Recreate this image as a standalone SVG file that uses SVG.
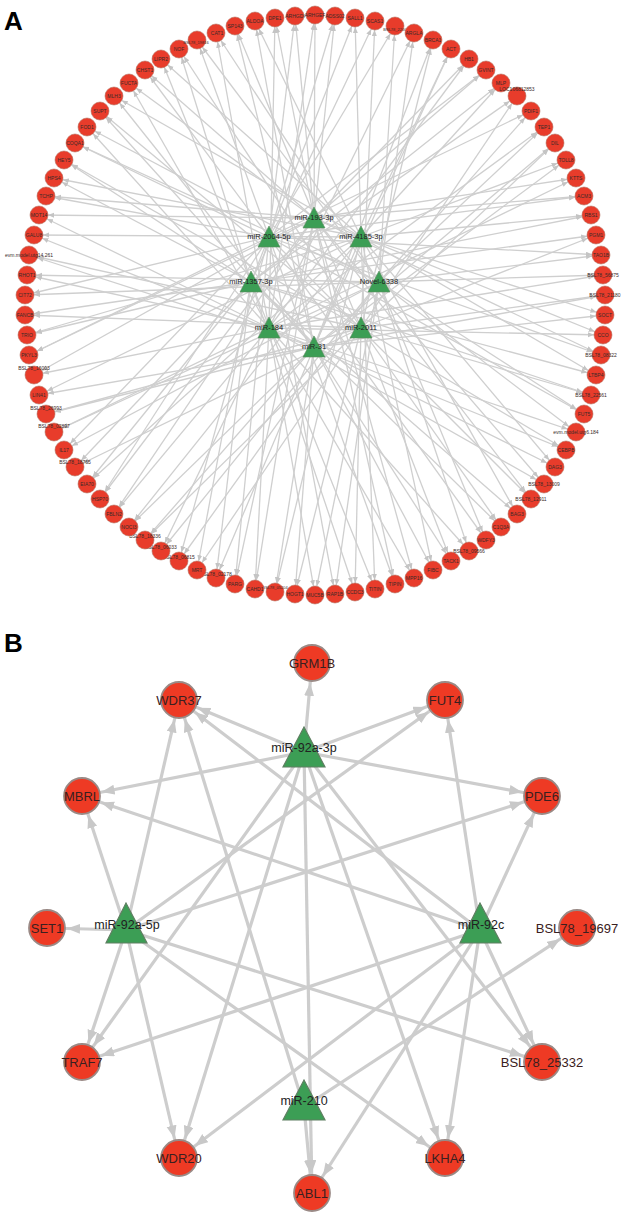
<svg xmlns="http://www.w3.org/2000/svg" width="626" height="1216" viewBox="0 0 626 1216">
<style>
.bg{fill:#fff}
.ea line{stroke:#cfcfcf;stroke-width:1.3;marker-end:url(#arA)}
.eb line{stroke:#cdcdcd;stroke-width:3.2;marker-end:url(#arB)}
.na circle{fill:#e83c2b;stroke:#b5715f;stroke-width:.6}
.na text{font-family:"Liberation Sans",Arial,sans-serif;font-size:5px;fill:#3a2a28;text-anchor:middle}
.na text.s{font-size:4px}
.ma polygon{fill:#3c9e55;stroke:#5c8a60;stroke-width:.6}
.ma text{font-family:"Liberation Sans",Arial,sans-serif;font-size:7.5px;fill:#222;text-anchor:middle}
.nb circle{fill:#ee3a24;stroke:#9a8a86;stroke-width:1.8}
.nb text{font-family:"Liberation Sans",Arial,sans-serif;font-size:13px;fill:#3a2020;text-anchor:middle}
.mb polygon{fill:#3c9e55;stroke:#5f7f62;stroke-width:1.2}
.mb text{font-family:"Liberation Sans",Arial,sans-serif;font-size:12.5px;fill:#222;text-anchor:middle}
.lbl{font-family:"Liberation Sans",Arial,sans-serif;font-size:26px;font-weight:bold;fill:#000}
</style>
<defs>
<marker id="arA" markerUnits="userSpaceOnUse" markerWidth="20" markerHeight="6" refX="15" refY="2.5" orient="auto"><path d="M0,0 L6,2.5 L0,5 z" fill="#c4c4c4"/></marker>
<marker id="arB" markerUnits="userSpaceOnUse" markerWidth="40" markerHeight="12" refX="33" refY="5" orient="auto"><path d="M0,0 L13,5 L0,10 z" fill="#c8c8c8"/></marker>
</defs>
<rect class="bg" width="626" height="1216"/>
<text class="lbl" x="4" y="30">A</text>
<text class="lbl" x="4" y="652">B</text>
<g id="edges-a" class="ea">
<line x1="314" y1="218" x2="315" y2="15"/><line x1="269" y1="328" x2="315" y2="15"/>
<line x1="269" y1="237" x2="335" y2="16"/><line x1="314" y1="218" x2="335" y2="16"/>
<line x1="361" y1="237" x2="355" y2="18"/><line x1="251" y1="282" x2="355" y2="18"/>
<line x1="251" y1="282" x2="375" y2="21"/><line x1="361" y1="328" x2="375" y2="21"/>
<line x1="379" y1="282" x2="395" y2="26"/><line x1="269" y1="237" x2="395" y2="26"/>
<line x1="269" y1="328" x2="414" y2="33"/><line x1="379" y1="282" x2="414" y2="33"/>
<line x1="361" y1="328" x2="433" y2="40"/><line x1="314" y1="347" x2="433" y2="40"/>
<line x1="314" y1="347" x2="451" y2="49"/><line x1="361" y1="237" x2="451" y2="49"/>
<line x1="314" y1="218" x2="469" y2="59"/><line x1="269" y1="328" x2="469" y2="59"/>
<line x1="269" y1="237" x2="486" y2="70"/><line x1="314" y1="218" x2="486" y2="70"/>
<line x1="361" y1="237" x2="501" y2="83"/><line x1="251" y1="282" x2="501" y2="83"/>
<line x1="251" y1="282" x2="517" y2="96"/><line x1="361" y1="328" x2="517" y2="96"/>
<line x1="379" y1="282" x2="531" y2="111"/><line x1="269" y1="237" x2="531" y2="111"/>
<line x1="269" y1="328" x2="544" y2="127"/><line x1="379" y1="282" x2="544" y2="127"/>
<line x1="361" y1="328" x2="555" y2="143"/><line x1="314" y1="347" x2="555" y2="143"/>
<line x1="314" y1="347" x2="566" y2="160"/><line x1="361" y1="237" x2="566" y2="160"/>
<line x1="314" y1="218" x2="576" y2="178"/><line x1="269" y1="328" x2="576" y2="178"/>
<line x1="269" y1="237" x2="584" y2="196"/><line x1="314" y1="218" x2="584" y2="196"/>
<line x1="361" y1="237" x2="591" y2="215"/><line x1="251" y1="282" x2="591" y2="215"/>
<line x1="251" y1="282" x2="596" y2="235"/><line x1="361" y1="328" x2="596" y2="235"/>
<line x1="379" y1="282" x2="601" y2="255"/><line x1="269" y1="237" x2="601" y2="255"/>
<line x1="269" y1="328" x2="603" y2="275"/><line x1="379" y1="282" x2="603" y2="275"/>
<line x1="361" y1="328" x2="605" y2="295"/><line x1="314" y1="347" x2="605" y2="295"/>
<line x1="314" y1="347" x2="605" y2="315"/><line x1="361" y1="237" x2="605" y2="315"/>
<line x1="314" y1="218" x2="603" y2="335"/><line x1="269" y1="328" x2="603" y2="335"/>
<line x1="269" y1="237" x2="601" y2="355"/><line x1="314" y1="218" x2="601" y2="355"/>
<line x1="361" y1="237" x2="596" y2="375"/><line x1="251" y1="282" x2="596" y2="375"/>
<line x1="251" y1="282" x2="591" y2="395"/><line x1="361" y1="328" x2="591" y2="395"/>
<line x1="379" y1="282" x2="584" y2="414"/><line x1="269" y1="237" x2="584" y2="414"/>
<line x1="269" y1="328" x2="576" y2="432"/><line x1="379" y1="282" x2="576" y2="432"/>
<line x1="361" y1="328" x2="566" y2="450"/><line x1="314" y1="347" x2="566" y2="450"/>
<line x1="314" y1="347" x2="555" y2="467"/><line x1="361" y1="237" x2="555" y2="467"/>
<line x1="314" y1="218" x2="544" y2="484"/><line x1="269" y1="328" x2="544" y2="484"/>
<line x1="269" y1="237" x2="531" y2="499"/><line x1="314" y1="218" x2="531" y2="499"/>
<line x1="361" y1="237" x2="517" y2="514"/><line x1="251" y1="282" x2="517" y2="514"/>
<line x1="251" y1="282" x2="501" y2="527"/><line x1="361" y1="328" x2="501" y2="527"/>
<line x1="379" y1="282" x2="486" y2="540"/><line x1="269" y1="237" x2="486" y2="540"/>
<line x1="269" y1="328" x2="469" y2="551"/><line x1="379" y1="282" x2="469" y2="551"/>
<line x1="361" y1="328" x2="451" y2="561"/><line x1="314" y1="347" x2="451" y2="561"/>
<line x1="314" y1="347" x2="433" y2="570"/><line x1="361" y1="237" x2="433" y2="570"/>
<line x1="314" y1="218" x2="414" y2="578"/><line x1="269" y1="328" x2="414" y2="578"/>
<line x1="269" y1="237" x2="395" y2="584"/><line x1="314" y1="218" x2="395" y2="584"/>
<line x1="361" y1="237" x2="375" y2="589"/><line x1="251" y1="282" x2="375" y2="589"/>
<line x1="251" y1="282" x2="355" y2="592"/><line x1="361" y1="328" x2="355" y2="592"/>
<line x1="379" y1="282" x2="335" y2="594"/><line x1="269" y1="237" x2="335" y2="594"/>
<line x1="269" y1="328" x2="315" y2="595"/><line x1="379" y1="282" x2="315" y2="595"/>
<line x1="361" y1="328" x2="295" y2="594"/><line x1="314" y1="347" x2="295" y2="594"/>
<line x1="314" y1="347" x2="275" y2="592"/><line x1="361" y1="237" x2="275" y2="592"/>
<line x1="314" y1="218" x2="255" y2="589"/><line x1="269" y1="328" x2="255" y2="589"/>
<line x1="269" y1="237" x2="235" y2="584"/><line x1="314" y1="218" x2="235" y2="584"/>
<line x1="361" y1="237" x2="216" y2="578"/><line x1="251" y1="282" x2="216" y2="578"/>
<line x1="251" y1="282" x2="197" y2="570"/><line x1="361" y1="328" x2="197" y2="570"/>
<line x1="379" y1="282" x2="179" y2="561"/><line x1="269" y1="237" x2="179" y2="561"/>
<line x1="269" y1="328" x2="161" y2="551"/><line x1="379" y1="282" x2="161" y2="551"/>
<line x1="361" y1="328" x2="145" y2="540"/><line x1="314" y1="347" x2="145" y2="540"/>
<line x1="314" y1="347" x2="129" y2="527"/><line x1="361" y1="237" x2="129" y2="527"/>
<line x1="314" y1="218" x2="114" y2="514"/><line x1="269" y1="328" x2="114" y2="514"/>
<line x1="269" y1="237" x2="100" y2="499"/><line x1="314" y1="218" x2="100" y2="499"/>
<line x1="361" y1="237" x2="87" y2="484"/><line x1="251" y1="282" x2="87" y2="484"/>
<line x1="251" y1="282" x2="75" y2="467"/><line x1="361" y1="328" x2="75" y2="467"/>
<line x1="379" y1="282" x2="64" y2="450"/><line x1="269" y1="237" x2="64" y2="450"/>
<line x1="269" y1="328" x2="54" y2="432"/><line x1="379" y1="282" x2="54" y2="432"/>
<line x1="361" y1="328" x2="46" y2="414"/><line x1="314" y1="347" x2="46" y2="414"/>
<line x1="314" y1="347" x2="39" y2="395"/><line x1="361" y1="237" x2="39" y2="395"/>
<line x1="314" y1="218" x2="34" y2="375"/><line x1="269" y1="328" x2="34" y2="375"/>
<line x1="269" y1="237" x2="29" y2="355"/><line x1="314" y1="218" x2="29" y2="355"/>
<line x1="361" y1="237" x2="27" y2="335"/><line x1="251" y1="282" x2="27" y2="335"/>
<line x1="251" y1="282" x2="25" y2="315"/><line x1="361" y1="328" x2="25" y2="315"/>
<line x1="379" y1="282" x2="25" y2="295"/><line x1="269" y1="237" x2="25" y2="295"/>
<line x1="269" y1="328" x2="27" y2="275"/><line x1="379" y1="282" x2="27" y2="275"/>
<line x1="361" y1="328" x2="29" y2="255"/><line x1="314" y1="347" x2="29" y2="255"/>
<line x1="314" y1="347" x2="34" y2="235"/><line x1="361" y1="237" x2="34" y2="235"/>
<line x1="314" y1="218" x2="39" y2="215"/><line x1="269" y1="328" x2="39" y2="215"/>
<line x1="269" y1="237" x2="46" y2="196"/><line x1="314" y1="218" x2="46" y2="196"/>
<line x1="361" y1="237" x2="54" y2="178"/><line x1="251" y1="282" x2="54" y2="178"/>
<line x1="251" y1="282" x2="64" y2="160"/><line x1="361" y1="328" x2="64" y2="160"/>
<line x1="379" y1="282" x2="75" y2="143"/><line x1="269" y1="237" x2="75" y2="143"/>
<line x1="269" y1="328" x2="87" y2="127"/><line x1="379" y1="282" x2="87" y2="127"/>
<line x1="361" y1="328" x2="100" y2="111"/><line x1="314" y1="347" x2="100" y2="111"/>
<line x1="314" y1="347" x2="114" y2="96"/><line x1="361" y1="237" x2="114" y2="96"/>
<line x1="314" y1="218" x2="129" y2="83"/><line x1="269" y1="328" x2="129" y2="83"/>
<line x1="269" y1="237" x2="145" y2="70"/><line x1="314" y1="218" x2="145" y2="70"/>
<line x1="361" y1="237" x2="161" y2="59"/><line x1="251" y1="282" x2="161" y2="59"/>
<line x1="251" y1="282" x2="179" y2="49"/><line x1="361" y1="328" x2="179" y2="49"/>
<line x1="379" y1="282" x2="197" y2="40"/><line x1="269" y1="237" x2="197" y2="40"/>
<line x1="269" y1="328" x2="216" y2="33"/><line x1="379" y1="282" x2="216" y2="33"/>
<line x1="361" y1="328" x2="235" y2="26"/><line x1="314" y1="347" x2="235" y2="26"/>
<line x1="314" y1="347" x2="255" y2="21"/><line x1="361" y1="237" x2="255" y2="21"/>
<line x1="314" y1="218" x2="275" y2="18"/><line x1="269" y1="328" x2="275" y2="18"/>
<line x1="269" y1="237" x2="295" y2="16"/><line x1="314" y1="218" x2="295" y2="16"/>
</g>
<g class="na">
<g id="a0"><circle cx="315" cy="15" r="9"/><text x="315" y="17">ARHGEF</text></g>
<g id="a1"><circle cx="335" cy="16" r="9"/><text x="335" y="18">ADSS02</text></g>
<g id="a2"><circle cx="355" cy="18" r="9"/><text x="355" y="20">SALL1</text></g>
<g id="a3"><circle cx="375" cy="21" r="9"/><text x="375" y="23">SCAS1</text></g>
<g id="a4"><circle cx="395" cy="26" r="9"/><text class="s" x="396" y="31">BSL78_22005</text></g>
<g id="a5"><circle cx="414" cy="33" r="9"/><text x="414" y="35">ARGLA</text></g>
<g id="a6"><circle cx="433" cy="40" r="9"/><text x="433" y="42">BRCA1</text></g>
<g id="a7"><circle cx="451" cy="49" r="9"/><text x="451" y="51">ACT</text></g>
<g id="a8"><circle cx="469" cy="59" r="9"/><text x="469" y="61">HB1</text></g>
<g id="a9"><circle cx="486" cy="70" r="9"/><text x="486" y="72">GVINT</text></g>
<g id="a10"><circle cx="501" cy="83" r="9"/><text x="501" y="85">MLP</text></g>
<g id="a11"><circle cx="517" cy="96" r="9"/><text x="517" y="91">LOC106812853</text></g>
<g id="a12"><circle cx="531" cy="111" r="9"/><text x="531" y="113">PDIF1</text></g>
<g id="a13"><circle cx="544" cy="127" r="9"/><text x="544" y="129">TEP1</text></g>
<g id="a14"><circle cx="555" cy="143" r="9"/><text x="555" y="145">DIL</text></g>
<g id="a15"><circle cx="566" cy="160" r="9"/><text x="566" y="162">TOLL8</text></g>
<g id="a16"><circle cx="576" cy="178" r="9"/><text x="576" y="180">KTTS</text></g>
<g id="a17"><circle cx="584" cy="196" r="9"/><text x="584" y="198">ACM3</text></g>
<g id="a18"><circle cx="591" cy="215" r="9"/><text x="591" y="217">RBS1</text></g>
<g id="a19"><circle cx="596" cy="235" r="9"/><text x="596" y="237">PGM1</text></g>
<g id="a20"><circle cx="601" cy="255" r="9"/><text x="601" y="257">TAO1B</text></g>
<g id="a21"><circle cx="603" cy="275" r="9"/><text x="603" y="277">BSL78_56875</text></g>
<g id="a22"><circle cx="605" cy="295" r="9"/><text x="605" y="297">BSL78_21180</text></g>
<g id="a23"><circle cx="605" cy="315" r="9"/><text x="605" y="317">SOCT</text></g>
<g id="a24"><circle cx="603" cy="335" r="9"/><text x="603" y="337">CCO</text></g>
<g id="a25"><circle cx="601" cy="355" r="9"/><text x="601" y="357">BSL78_08322</text></g>
<g id="a26"><circle cx="596" cy="375" r="9"/><text x="596" y="377">LTBP4</text></g>
<g id="a27"><circle cx="591" cy="395" r="9"/><text x="591" y="397">BSL78_22561</text></g>
<g id="a28"><circle cx="584" cy="414" r="9"/><text x="584" y="416">FUT5</text></g>
<g id="a29"><circle cx="576" cy="432" r="9"/><text x="576" y="434">evm.model.utg6.184</text></g>
<g id="a30"><circle cx="566" cy="450" r="9"/><text x="566" y="452">CEBPB</text></g>
<g id="a31"><circle cx="555" cy="467" r="9"/><text x="555" y="469">DAG3</text></g>
<g id="a32"><circle cx="544" cy="484" r="9"/><text x="544" y="486">BSL78_13009</text></g>
<g id="a33"><circle cx="531" cy="499" r="9"/><text x="531" y="501">BSL78_12911</text></g>
<g id="a34"><circle cx="517" cy="514" r="9"/><text x="517" y="516">BAG3</text></g>
<g id="a35"><circle cx="501" cy="527" r="9"/><text x="501" y="529">C1Q3A</text></g>
<g id="a36"><circle cx="486" cy="540" r="9"/><text x="486" y="542">WDFY3</text></g>
<g id="a37"><circle cx="469" cy="551" r="9"/><text x="469" y="553">BSL78_09566</text></g>
<g id="a38"><circle cx="451" cy="561" r="9"/><text x="451" y="563">TACK1</text></g>
<g id="a39"><circle cx="433" cy="570" r="9"/><text x="433" y="572">FIBC</text></g>
<g id="a40"><circle cx="414" cy="578" r="9"/><text x="414" y="580">MPP16</text></g>
<g id="a41"><circle cx="395" cy="584" r="9"/><text x="395" y="586">TIPIN</text></g>
<g id="a42"><circle cx="375" cy="589" r="9"/><text x="375" y="591">TITIN</text></g>
<g id="a43"><circle cx="355" cy="592" r="9"/><text x="355" y="594">CCDC3</text></g>
<g id="a44"><circle cx="335" cy="594" r="9"/><text x="335" y="596">RAP1B</text></g>
<g id="a45"><circle cx="315" cy="595" r="9"/><text x="315" y="597">MUC5B</text></g>
<g id="a46"><circle cx="295" cy="594" r="9"/><text x="295" y="596">HOGT1</text></g>
<g id="a47"><circle cx="275" cy="592" r="9"/><text class="s" x="275" y="589">BSL78_05204</text></g>
<g id="a48"><circle cx="255" cy="589" r="9"/><text x="255" y="591">CAHD1</text></g>
<g id="a49"><circle cx="235" cy="584" r="9"/><text x="235" y="586">PARG</text></g>
<g id="a50"><circle cx="216" cy="578" r="9"/><text x="216" y="576">BSL78_02178</text></g>
<g id="a51"><circle cx="197" cy="570" r="9"/><text x="197" y="572">MRT</text></g>
<g id="a52"><circle cx="179" cy="561" r="9"/><text x="179" y="559">BSL78_06815</text></g>
<g id="a53"><circle cx="161" cy="551" r="9"/><text x="161" y="549">BSL78_06033</text></g>
<g id="a54"><circle cx="145" cy="540" r="9"/><text x="145" y="538">BSL78_18336</text></g>
<g id="a55"><circle cx="129" cy="527" r="9"/><text x="129" y="529">NOCI3</text></g>
<g id="a56"><circle cx="114" cy="514" r="9"/><text x="114" y="516">FBLN2</text></g>
<g id="a57"><circle cx="100" cy="499" r="9"/><text x="100" y="501">HSP70</text></g>
<g id="a58"><circle cx="87" cy="484" r="9"/><text x="87" y="486">EIA70</text></g>
<g id="a59"><circle cx="75" cy="467" r="9"/><text x="75" y="464">BSL78_18765</text></g>
<g id="a60"><circle cx="64" cy="450" r="9"/><text x="64" y="452">IL17</text></g>
<g id="a61"><circle cx="54" cy="432" r="9"/><text x="54" y="428">BSL78_02897</text></g>
<g id="a62"><circle cx="46" cy="414" r="9"/><text x="46" y="410">BSL78_26993</text></g>
<g id="a63"><circle cx="39" cy="395" r="9"/><text x="39" y="397">LIN41</text></g>
<g id="a64"><circle cx="34" cy="375" r="9"/><text x="34" y="370">BSL78_16003</text></g>
<g id="a65"><circle cx="29" cy="355" r="9"/><text x="29" y="357">PKYL3</text></g>
<g id="a66"><circle cx="27" cy="335" r="9"/><text x="27" y="337">TRIO</text></g>
<g id="a67"><circle cx="25" cy="315" r="9"/><text x="25" y="317">FANCB</text></g>
<g id="a68"><circle cx="25" cy="295" r="9"/><text x="25" y="297">CIT72</text></g>
<g id="a69"><circle cx="27" cy="275" r="9"/><text x="27" y="277">RHOT1</text></g>
<g id="a70"><circle cx="29" cy="255" r="9"/><text x="29" y="257">evm.model.utg14.261</text></g>
<g id="a71"><circle cx="34" cy="235" r="9"/><text x="34" y="237">GALU8</text></g>
<g id="a72"><circle cx="39" cy="215" r="9"/><text x="39" y="217">MOT14</text></g>
<g id="a73"><circle cx="46" cy="196" r="9"/><text x="46" y="198">TCHP</text></g>
<g id="a74"><circle cx="54" cy="178" r="9"/><text x="54" y="180">HPS4</text></g>
<g id="a75"><circle cx="64" cy="160" r="9"/><text x="64" y="162">HEY5</text></g>
<g id="a76"><circle cx="75" cy="143" r="9"/><text x="75" y="145">COQA1</text></g>
<g id="a77"><circle cx="87" cy="127" r="9"/><text x="87" y="129">FOD1</text></g>
<g id="a78"><circle cx="100" cy="111" r="9"/><text x="100" y="113">SUPT</text></g>
<g id="a79"><circle cx="114" cy="96" r="9"/><text x="114" y="98">MLH3</text></g>
<g id="a80"><circle cx="129" cy="83" r="9"/><text x="129" y="85">FUCTA</text></g>
<g id="a81"><circle cx="145" cy="70" r="9"/><text x="145" y="72">CHST1</text></g>
<g id="a82"><circle cx="161" cy="59" r="9"/><text x="161" y="61">LIPR2</text></g>
<g id="a83"><circle cx="179" cy="49" r="9"/><text x="179" y="51">NOF</text></g>
<g id="a84"><circle cx="197" cy="40" r="9"/><text class="s" x="196" y="44">BSL78_19816</text></g>
<g id="a85"><circle cx="216" cy="33" r="9"/><text x="217" y="35">CAT1</text></g>
<g id="a86"><circle cx="235" cy="26" r="9"/><text x="235" y="28">SP143</text></g>
<g id="a87"><circle cx="255" cy="21" r="9"/><text x="255" y="23">ALDOA</text></g>
<g id="a88"><circle cx="275" cy="18" r="9"/><text x="275" y="20">DPE1</text></g>
<g id="a89"><circle cx="295" cy="16" r="9"/><text x="295" y="18">ARHGDI</text></g>
</g>
<g class="ma">
<g id="m193"><polygon points="314,207 303,228 325,228"/><text x="314" y="220">miR-193-3p</text></g>
<g id="m2004"><polygon points="269,226 258,247 280,247"/><text x="269" y="239">miR-2004-5p</text></g>
<g id="m4185"><polygon points="361,226 350,247 372,247"/><text x="361" y="239">miR-4185-3p</text></g>
<g id="m1357"><polygon points="251,271 240,292 262,292"/><text x="251" y="284">miR-1357-3p</text></g>
<g id="n6338"><polygon points="379,271 368,292 390,292"/><text x="379" y="284">Novel-6338</text></g>
<g id="m184"><polygon points="269,317 258,338 280,338"/><text x="269" y="330">miR-184</text></g>
<g id="m2011"><polygon points="361,317 350,338 372,338"/><text x="361" y="330">miR-2011</text></g>
<g id="m31"><polygon points="314,336 303,357 325,357"/><text x="314" y="349">miR-31</text></g>
</g>
<g id="edges-b" class="eb">
<line x1="304" y1="752" x2="312" y2="663"/><line x1="304" y1="752" x2="179" y2="700"/>
<line x1="304" y1="752" x2="445" y2="700"/><line x1="304" y1="752" x2="82" y2="796"/>
<line x1="304" y1="752" x2="542" y2="796"/><line x1="304" y1="752" x2="312" y2="1193"/>
<line x1="304" y1="752" x2="82" y2="1062"/><line x1="304" y1="752" x2="179" y2="1158"/>
<line x1="304" y1="752" x2="445" y2="1158"/><line x1="304" y1="752" x2="542" y2="1062"/>
<line x1="126" y1="930" x2="47" y2="928"/><line x1="126" y1="930" x2="82" y2="796"/>
<line x1="126" y1="930" x2="179" y2="700"/><line x1="126" y1="930" x2="82" y2="1062"/>
<line x1="126" y1="930" x2="179" y2="1158"/><line x1="126" y1="930" x2="542" y2="796"/>
<line x1="126" y1="930" x2="445" y2="700"/><line x1="126" y1="930" x2="445" y2="1158"/>
<line x1="126" y1="930" x2="542" y2="1062"/>
<line x1="480" y1="930" x2="445" y2="700"/><line x1="480" y1="930" x2="542" y2="796"/>
<line x1="480" y1="930" x2="82" y2="796"/><line x1="480" y1="930" x2="179" y2="700"/>
<line x1="480" y1="930" x2="82" y2="1062"/><line x1="480" y1="930" x2="179" y2="1158"/>
<line x1="480" y1="930" x2="312" y2="1193"/><line x1="480" y1="930" x2="445" y2="1158"/>
<line x1="480" y1="930" x2="542" y2="1062"/>
<line x1="304" y1="1107" x2="312" y2="1193"/><line x1="304" y1="1107" x2="577" y2="928"/>
<line x1="304" y1="1107" x2="179" y2="700"/>
</g>
<g class="nb">
<g id="GRM1B"><circle cx="312" cy="663" r="18"/><text x="312" y="668">GRM1B</text></g>
<g id="WDR37"><circle cx="179" cy="700" r="18"/><text x="179" y="705">WDR37</text></g>
<g id="FUT4"><circle cx="445" cy="700" r="18"/><text x="445" y="705">FUT4</text></g>
<g id="MBRL"><circle cx="82" cy="796" r="18"/><text x="82" y="801">MBRL</text></g>
<g id="PDE6"><circle cx="542" cy="796" r="18"/><text x="542" y="801">PDE6</text></g>
<g id="SET1"><circle cx="47" cy="928" r="18"/><text x="47" y="933">SET1</text></g>
<g id="BSL78_19697"><circle cx="577" cy="928" r="18"/><text x="577" y="933">BSL78_19697</text></g>
<g id="TRAF7"><circle cx="82" cy="1062" r="18"/><text x="82" y="1067">TRAF7</text></g>
<g id="BSL78_25332"><circle cx="542" cy="1062" r="18"/><text x="542" y="1067">BSL78_25332</text></g>
<g id="WDR20"><circle cx="179" cy="1158" r="18"/><text x="179" y="1163">WDR20</text></g>
<g id="LKHA4"><circle cx="445" cy="1158" r="18"/><text x="445" y="1163">LKHA4</text></g>
<g id="ABL1"><circle cx="312" cy="1193" r="18"/><text x="312" y="1198">ABL1</text></g>
</g>
<g class="mb">
<g id="miR-92a-3p"><polygon points="304,727 283,767 325,767"/><text x="304" y="752">miR-92a-3p</text></g>
<g id="miR-92a-5p"><polygon points="126,903 106,943 147,943"/><text x="127" y="929">miR-92a-5p</text></g>
<g id="miR-92c"><polygon points="480,903 460,943 501,943"/><text x="481" y="929">miR-92c</text></g>
<g id="miR-210"><polygon points="304,1080 283,1120 325,1120"/><text x="304" y="1105">miR-210</text></g>
</g>
</svg>
